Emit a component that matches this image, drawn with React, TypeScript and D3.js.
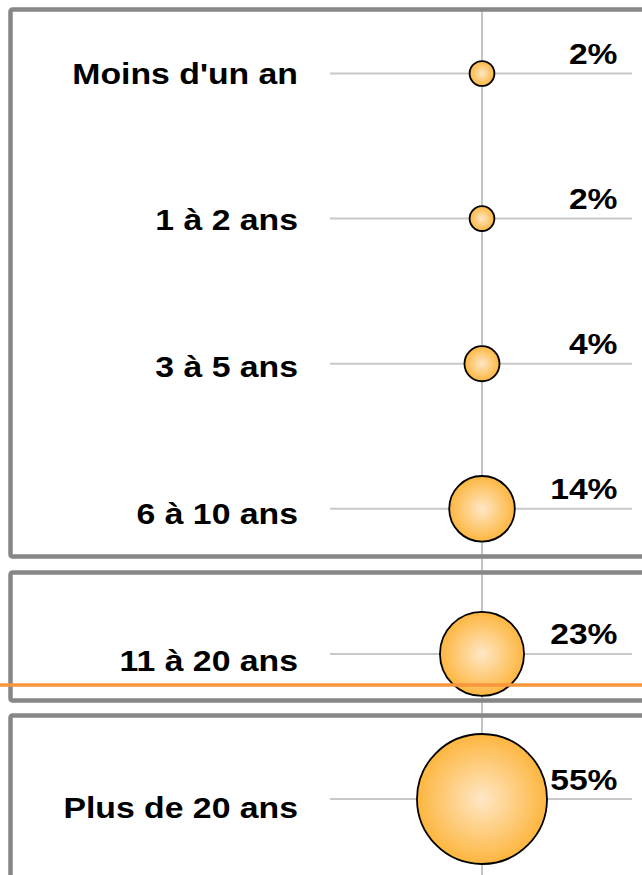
import React from "react";
import * as d3 from "d3";

// Seniority bands and the share of each band (percent)
const categories = [
  "Moins d'un an",
  "1 à 2 ans",
  "3 à 5 ans",
  "6 à 10 ans",
  "11 à 20 ans",
  "Plus de 20 ans",
];
const shares = [2, 2, 4, 14, 23, 55];

const W = 642;
const H = 875;
const CX = 482; // bubble column

const FONT = "'Liberation Sans', Arial, Helvetica, sans-serif";

export default function App() {
  const y = d3.scalePoint<string>().domain(categories).range([73.5, 799]);
  const yLabel = d3.scalePoint<string>().domain(categories).range([83.5, 818]);
  const r = d3.scaleSqrt().domain([0, 55]).range([0, 65]);

  const boxes = [
    { y0: 9.5, y1: 556.5 },
    { y0: 572.5, y1: 700.5 },
    { y0: 715.5, y1: 877.5 },
  ];

  return (
    <svg
      width={W}
      height={H}
      viewBox={`0 0 ${W} ${H}`}
      style={{ position: "absolute", left: 0, top: 0, background: "#fff" }}
    >
      <defs>
        <radialGradient id="bubbleFill" cx="50%" cy="50%" r="50%">
          <stop offset="0%" stopColor="#FFE7C6" />
          <stop offset="100%" stopColor="#FDB63F" />
        </radialGradient>
      </defs>

      {/* vertical axis through the bubbles */}
      <line x1={CX} x2={CX} y1={9.5} y2={H} stroke="#c4c4c4" strokeWidth={2} />

      {/* panel frames */}
      {boxes.map((b, i) => (
        <rect
          key={i}
          x={10.5}
          y={b.y0}
          width={680}
          height={b.y1 - b.y0}
          rx={2}
          fill="none"
          stroke="#878787"
          strokeWidth={4.5}
        />
      ))}

      {/* category grid lines */}
      {categories.map((c) => (
        <line
          key={c}
          x1={330}
          x2={632}
          y1={y(c)}
          y2={y(c)}
          stroke="#c8c8c8"
          strokeWidth={2}
        />
      ))}

      {/* bubbles */}
      {categories.map((c, i) => (
        <circle
          key={c}
          cx={CX}
          cy={y(c)}
          r={r(shares[i])}
          fill="url(#bubbleFill)"
          stroke="#000"
          strokeWidth={1.8}
        />
      ))}

      {/* category labels */}
      {categories.map((c) => (
        <g key={c} transform={`translate(298,${yLabel(c)}) scale(1.145,1)`}>
          <text
            textAnchor="end"
            fontFamily={FONT}
            fontWeight="bold"
            fontSize={29.5}
            fill="#000"
          >
            {c}
          </text>
        </g>
      ))}

      {/* value labels */}
      {categories.map((c, i) => (
        <g key={c} transform={`translate(617.5,${(y(c) as number) - 9.5}) scale(1.14,1)`}>
          <text
            textAnchor="end"
            fontFamily={FONT}
            fontWeight="bold"
            fontSize={29.5}
            fill="#000"
          >
            {`${shares[i]}%`}
          </text>
        </g>
      ))}

      {/* reference line */}
      <line x1={0} x2={W} y1={685} y2={685} stroke="#F7963C" strokeWidth={3.5} />
    </svg>
  );
}
